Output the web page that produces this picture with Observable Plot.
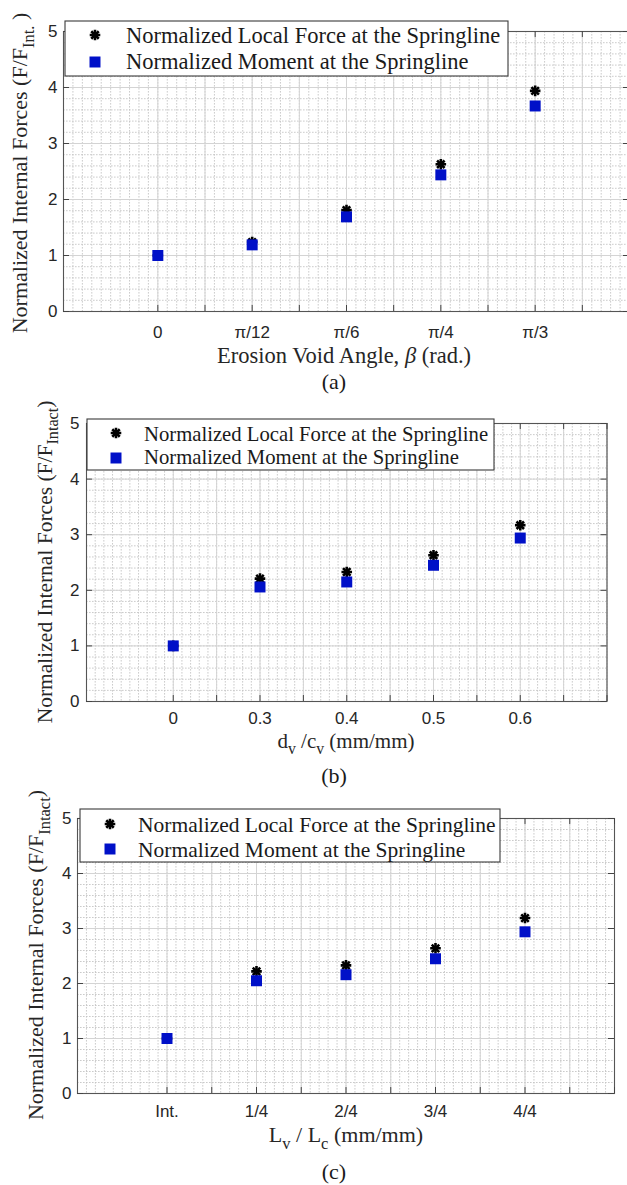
<!DOCTYPE html>
<html>
<head>
<meta charset="utf-8">
<script src="https://cdn.jsdelivr.net/npm/d3@7"></script>
<script src="https://cdn.jsdelivr.net/npm/@observablehq/plot@0.6"></script>
<style>
  html, body { margin: 0; padding: 0; background: #fff; }
  #wrap { width: 627px; height: 1185px; overflow: hidden; }
  svg { display: block; }
</style>
</head>
<body>
<div id="wrap"></div>
<script>
// ---------- data ----------
const yTicks = [0, 1, 2, 3, 4, 5];

const labelsA = ["0", "π/12", "π/6", "π/4", "π/3"];
const forceA  = [1.00, 1.24, 1.81, 2.63, 3.94];
const momentA = [1.00, 1.19, 1.69, 2.44, 3.67];

const labelsB = ["0", "0.3", "0.4", "0.5", "0.6"];
const forceB  = [1.00, 2.21, 2.33, 2.63, 3.17];
const momentB = [1.00, 2.06, 2.15, 2.45, 2.94];

const labelsC = ["Int.", "1/4", "2/4", "3/4", "4/4"];
const forceC  = [1.00, 2.22, 2.33, 2.64, 3.19];
const momentC = [1.00, 2.05, 2.16, 2.45, 2.94];

const legendLabels = ["Normalized Local Force at the Springline", "Normalized Moment at the Springline"];

const xTitleA = [{t: "Erosion Void Angle, "}, {t: "β", it: true}, {t: " (rad.)"}];
const xTitleB = [{t: "d"}, {t: "v", sub: true}, {t: " /c"}, {t: "v", sub: true}, {t: " (mm/mm)"}];
const xTitleC = [{t: "L"}, {t: "v", sub: true}, {t: " / L"}, {t: "c", sub: true}, {t: " (mm/mm)"}];
const yTitleA = [{t: "Normalized Internal Forces (F/F"}, {t: "Int.", sub: true}, {t: " )"}];
const yTitleBC = [{t: "Normalized Internal Forces (F/F"}, {t: "Intact", sub: true}, {t: ")"}];
const captions = ["(a)", "(b)", "(c)"];

// ---------- helpers ----------
const W = 627, H = 395;
const SERIF = "'Liberation Serif', 'Times New Roman', serif";
const SANS = "'Liberation Sans', Arial, Helvetica, sans-serif";
const BLUE = "#0010C8";
const STAR_R = 3.5, STAR_W = 2.6, SQ_R = 6.2;

function rich(textSel, parts, fs) {
  let shift = 0;
  for (const p of parts) {
    const ts = textSel.append("tspan").text(p.t);
    const target = p.sub ? fs * 0.3 : 0;
    if (target !== shift) { ts.attr("dy", target - shift); shift = target; }
    if (p.sub) ts.attr("font-size", fs * 0.75);
    if (p.it) ts.attr("font-style", "italic");
  }
}

function panel(cfg) {
  const {labels, force, moment, mT, mB, mL, mR, tickPad, yPad} = cfg;
  const fData = force.map((v, i) => ({i, v}));
  const mData = moment.map((v, i) => ({i, v}));
  const pxX = (W - mL - mR) / 6;
  const pxY = (H - mT - mB) / 5;
  const tx = 6 / pxX, ty = 6 / pxY;
  const minorX = d3.range(-10, 51).map(d => d / 10);
  const minorY = d3.range(0, 26).map(d => d / 5);
  const majorX = d3.range(0, 11).map(d => d / 2);
  const gridStyle = {stroke: "#c2c2c2", strokeWidth: 0.85, strokeDasharray: "1.6,1.4"};
  const svg = Plot.plot({
    width: W, height: H,
    marginTop: mT, marginBottom: mB, marginLeft: mL, marginRight: mR,
    x: {domain: [-1, 5], axis: null},
    y: {domain: [0, 5], axis: null},
    style: {fontFamily: SANS, fontSize: "17px", color: "#262626", background: "white"},
    marks: [
      Plot.ruleX(minorX, {...gridStyle}),
      Plot.ruleY(minorY, {...gridStyle}),
      Plot.ruleX(majorX, {stroke: "#d4d4d4", strokeWidth: 1}),
      Plot.ruleY(yTicks, {stroke: "#d4d4d4", strokeWidth: 1}),
      Plot.frame({stroke: "#555", strokeWidth: 1.1}),
      // inward tick marks
      Plot.ruleX(majorX, {y1: 0, y2: ty, stroke: "#444"}),
      Plot.ruleX(majorX, {y1: 5, y2: 5 - ty, stroke: "#444"}),
      Plot.ruleY(yTicks, {x1: -1, x2: -1 + tx, stroke: "#444"}),
      Plot.ruleY(yTicks, {x1: 5, x2: 5 - tx, stroke: "#444"}),
      Plot.axisX(labels.map((_, i) => i), {tickSize: 0, tickPadding: tickPad, tickFormat: i => labels[i], fill: "#262626", label: null}),
      Plot.axisY(yTicks, {tickSize: 0, tickPadding: yPad, tickFormat: d => String(d), fill: "#262626", label: null}),
      Plot.dot(fData, {x: "i", y: "v", symbol: "plus", r: STAR_R, stroke: "black", fill: "none", strokeWidth: STAR_W}),
      Plot.dot(fData, {x: "i", y: "v", symbol: "times", r: STAR_R, stroke: "black", fill: "none", strokeWidth: STAR_W}),
      Plot.dot(mData, {x: "i", y: "v", symbol: "square", r: SQ_R, fill: BLUE, stroke: "none"})
    ]
  });
  const s = d3.select(svg);
  // legend
  const L = cfg.legend;
  const g = s.append("g").attr("text-anchor", "start");
  g.append("rect").attr("x", L.x).attr("y", L.y).attr("width", L.w).attr("height", L.h)
    .attr("fill", "white").attr("stroke", "#3a3a3a").attr("stroke-width", 1.1);
  const area = r => Math.PI * r * r;
  for (const type of [d3.symbolPlus, d3.symbolTimes]) {
    g.append("path").attr("d", d3.symbol(type, area(STAR_R))())
      .attr("transform", `translate(${L.ix},${L.c1})`)
      .attr("fill", "none").attr("stroke", "black").attr("stroke-width", STAR_W);
  }
  g.append("path").attr("d", d3.symbol(d3.symbolSquare, area(SQ_R))())
    .attr("transform", `translate(${L.ix},${L.c2})`).attr("fill", BLUE);
  [L.b1, L.b2].forEach((b, k) => {
    g.append("text").attr("x", L.tx).attr("y", b).attr("font-family", SERIF).attr("text-anchor", "start")
      .attr("font-size", L.fs).attr("fill", "#1a1a1a").text(legendLabels[k]);
  });
  // x title
  const xt = s.append("text").attr("x", cfg.xtX).attr("y", cfg.xtY).attr("text-anchor", "middle")
    .attr("font-family", SERIF).attr("font-size", cfg.tfs).attr("fill", "#262626");
  rich(xt, cfg.xTitle, cfg.tfs);
  // y title
  const yt = s.append("text").attr("transform", `translate(${cfg.ytX},${cfg.ytY}) rotate(-90)`)
    .attr("text-anchor", "middle").attr("font-family", SERIF).attr("font-size", cfg.yfs).attr("fill", "#262626");
  rich(yt, cfg.yTitle, cfg.yfs);
  // caption
  s.append("text").attr("x", 334).attr("y", cfg.capY).attr("text-anchor", "middle")
    .attr("font-family", SERIF).attr("font-size", 22).attr("fill", "#1a1a1a").text(cfg.caption);
  return svg;
}

const wrap = document.getElementById("wrap");
wrap.append(panel({
  labels: labelsA, force: forceA, moment: momentA,
  mT: 31, mB: 84, mL: 63, mR: -2, tickPad: 14, yPad: 6,
  legend: {x: 65, y: 21, w: 443, h: 55, ix: 95, c1: 35, c2: 62, tx: 126, b1: 43, b2: 69, fs: 22.5},
  xTitle: xTitleA, xtX: 344, xtY: 363, tfs: 22.5,
  yTitle: yTitleA, ytX: 27, ytY: 173, yfs: 22,
  caption: captions[0], capY: 389
}));
wrap.append(panel({
  labels: labelsB, force: forceB, moment: momentB,
  mT: 28, mB: 89, mL: 86, mR: 20.5, tickPad: 10.5, yPad: 7,
  legend: {x: 87, y: 24, w: 407, h: 51, ix: 116, c1: 38, c2: 63, tx: 144, b1: 46, b2: 69, fs: 20.7},
  xTitle: xTitleB, xtX: 346, xtY: 353, tfs: 21,
  yTitle: yTitleBC, ytX: 52, ytY: 167, yfs: 21.5,
  caption: captions[1], capY: 388
}));
wrap.append(panel({
  labels: labelsC, force: forceC, moment: momentC,
  mT: 28, mB: 92, mL: 77, mR: 13, tickPad: 11.5, yPad: 6,
  legend: {x: 80, y: 19, w: 420, h: 53, ix: 110, c1: 34, c2: 59, tx: 138, b1: 42, b2: 67, fs: 21.5},
  xTitle: xTitleC, xtX: 346, xtY: 352, tfs: 22,
  yTitle: yTitleBC, ytX: 43, ytY: 165, yfs: 22,
  caption: captions[2], capY: 389
}));
</script>
</body>
</html>
